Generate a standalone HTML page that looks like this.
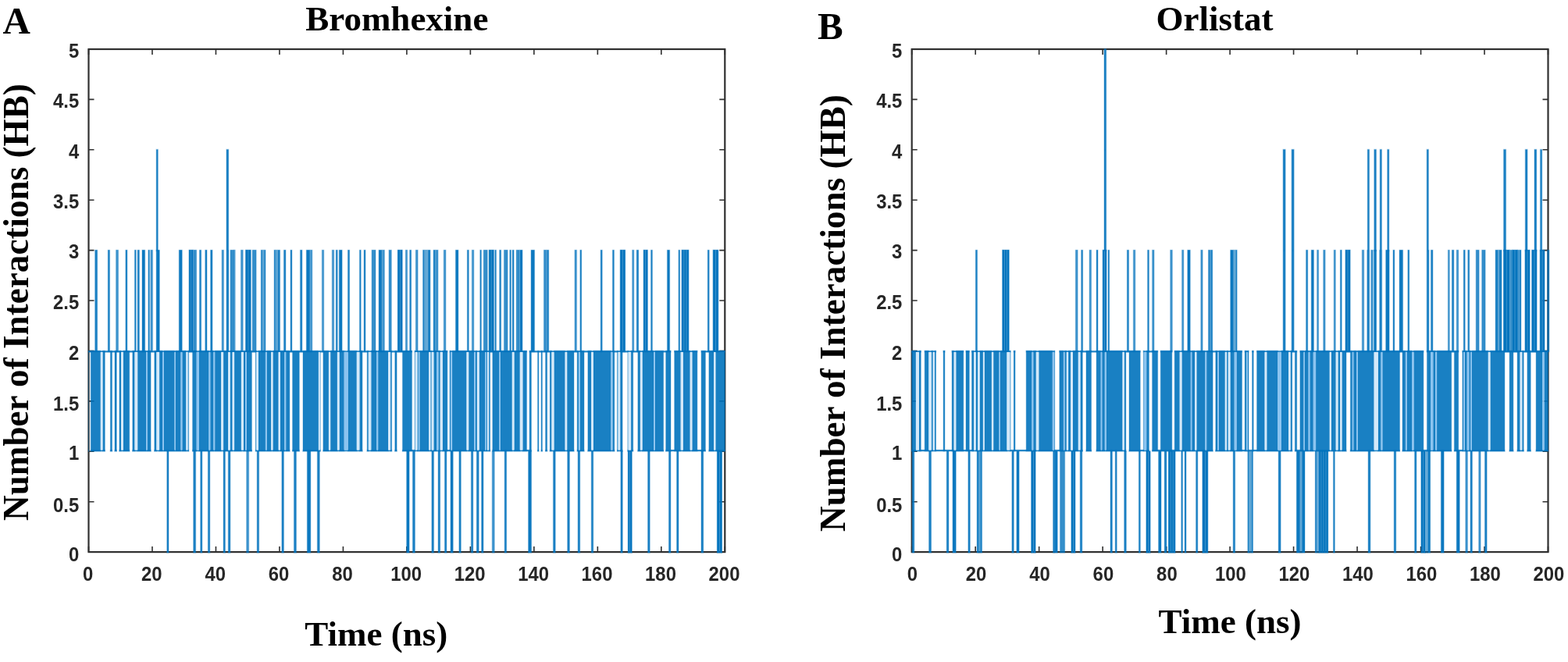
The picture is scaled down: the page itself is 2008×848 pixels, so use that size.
<!DOCTYPE html>
<html><head><meta charset="utf-8"><title>Hydrogen bond interactions</title>
<style>
html,body{margin:0;padding:0;background:#fff;}
body{width:2008px;height:848px;overflow:hidden;}
svg{display:block;}
.tk{font-family:"Liberation Sans",Arial,sans-serif;font-weight:bold;font-size:25px;fill:#262626;}
.ti{font-family:"Liberation Serif","Times New Roman",serif;font-weight:bold;font-size:45px;fill:#000;}
.pl{font-family:"Liberation Serif","Times New Roman",serif;font-weight:bold;font-size:49px;fill:#000;}
.yl{font-family:"Liberation Serif","Times New Roman",serif;font-weight:bold;font-size:47.4px;fill:#000;}
</style></head><body>
<svg width="2008" height="848" viewBox="0 0 2008 848">
<rect width="2008" height="848" fill="#fff"/>
<g id="axesA">
<rect x="113.5" y="63.0" width="814.8" height="644.1" fill="none" stroke="#303030" stroke-width="2.2"/>
<path d="M113.50 707.1v-7M113.50 63.0v7" stroke="#303030" stroke-width="1.6" fill="none"/>
<path d="M194.98 707.1v-7M194.98 63.0v7" stroke="#303030" stroke-width="1.6" fill="none"/>
<path d="M276.46 707.1v-7M276.46 63.0v7" stroke="#303030" stroke-width="1.6" fill="none"/>
<path d="M357.94 707.1v-7M357.94 63.0v7" stroke="#303030" stroke-width="1.6" fill="none"/>
<path d="M439.42 707.1v-7M439.42 63.0v7" stroke="#303030" stroke-width="1.6" fill="none"/>
<path d="M520.90 707.1v-7M520.90 63.0v7" stroke="#303030" stroke-width="1.6" fill="none"/>
<path d="M602.38 707.1v-7M602.38 63.0v7" stroke="#303030" stroke-width="1.6" fill="none"/>
<path d="M683.86 707.1v-7M683.86 63.0v7" stroke="#303030" stroke-width="1.6" fill="none"/>
<path d="M765.34 707.1v-7M765.34 63.0v7" stroke="#303030" stroke-width="1.6" fill="none"/>
<path d="M846.82 707.1v-7M846.82 63.0v7" stroke="#303030" stroke-width="1.6" fill="none"/>
<path d="M928.30 707.1v-7M928.30 63.0v7" stroke="#303030" stroke-width="1.6" fill="none"/>
<path d="M113.5 707.10h7M928.3 707.10h-7" stroke="#303030" stroke-width="1.6" fill="none"/>
<path d="M113.5 642.69h7M928.3 642.69h-7" stroke="#303030" stroke-width="1.6" fill="none"/>
<path d="M113.5 578.28h7M928.3 578.28h-7" stroke="#303030" stroke-width="1.6" fill="none"/>
<path d="M113.5 513.87h7M928.3 513.87h-7" stroke="#303030" stroke-width="1.6" fill="none"/>
<path d="M113.5 449.46h7M928.3 449.46h-7" stroke="#303030" stroke-width="1.6" fill="none"/>
<path d="M113.5 385.05h7M928.3 385.05h-7" stroke="#303030" stroke-width="1.6" fill="none"/>
<path d="M113.5 320.64h7M928.3 320.64h-7" stroke="#303030" stroke-width="1.6" fill="none"/>
<path d="M113.5 256.23h7M928.3 256.23h-7" stroke="#303030" stroke-width="1.6" fill="none"/>
<path d="M113.5 191.82h7M928.3 191.82h-7" stroke="#303030" stroke-width="1.6" fill="none"/>
<path d="M113.5 127.41h7M928.3 127.41h-7" stroke="#303030" stroke-width="1.6" fill="none"/>
<path d="M113.5 63.00h7M928.3 63.00h-7" stroke="#303030" stroke-width="1.6" fill="none"/>
<text class="tk" transform="translate(112.7 743.8) scale(0.955 1)" text-anchor="middle">0</text>
<text class="tk" transform="translate(194.2 743.8) scale(0.955 1)" text-anchor="middle">20</text>
<text class="tk" transform="translate(275.7 743.8) scale(0.955 1)" text-anchor="middle">40</text>
<text class="tk" transform="translate(357.1 743.8) scale(0.955 1)" text-anchor="middle">60</text>
<text class="tk" transform="translate(438.6 743.8) scale(0.955 1)" text-anchor="middle">80</text>
<text class="tk" transform="translate(520.1 743.8) scale(0.955 1)" text-anchor="middle">100</text>
<text class="tk" transform="translate(601.6 743.8) scale(0.955 1)" text-anchor="middle">120</text>
<text class="tk" transform="translate(683.1 743.8) scale(0.955 1)" text-anchor="middle">140</text>
<text class="tk" transform="translate(764.5 743.8) scale(0.955 1)" text-anchor="middle">160</text>
<text class="tk" transform="translate(846.0 743.8) scale(0.955 1)" text-anchor="middle">180</text>
<text class="tk" transform="translate(927.5 743.8) scale(0.955 1)" text-anchor="middle">200</text>
<text class="tk" transform="translate(101.2 719.0) scale(0.955 1)" text-anchor="end">0</text>
<text class="tk" transform="translate(101.2 655.9) scale(0.955 1)" text-anchor="end">0.5</text>
<text class="tk" transform="translate(101.2 589.3) scale(0.955 1)" text-anchor="end">1</text>
<text class="tk" transform="translate(101.2 525.9) scale(0.955 1)" text-anchor="end">1.5</text>
<text class="tk" transform="translate(101.2 460.8) scale(0.955 1)" text-anchor="end">2</text>
<text class="tk" transform="translate(101.2 396.4) scale(0.955 1)" text-anchor="end">2.5</text>
<text class="tk" transform="translate(101.2 331.3) scale(0.955 1)" text-anchor="end">3</text>
<text class="tk" transform="translate(101.2 267.4) scale(0.955 1)" text-anchor="end">3.5</text>
<text class="tk" transform="translate(101.2 203.2) scale(0.955 1)" text-anchor="end">4</text>
<text class="tk" transform="translate(101.2 138.1) scale(0.955 1)" text-anchor="end">4.5</text>
<text class="tk" transform="translate(101.2 74.4) scale(0.955 1)" text-anchor="end">5</text>
</g>
<g id="axesB">
<rect x="1167.7" y="63.0" width="814.8" height="644.1" fill="none" stroke="#303030" stroke-width="2.2"/>
<path d="M1167.70 707.1v-7M1167.70 63.0v7" stroke="#303030" stroke-width="1.6" fill="none"/>
<path d="M1249.18 707.1v-7M1249.18 63.0v7" stroke="#303030" stroke-width="1.6" fill="none"/>
<path d="M1330.66 707.1v-7M1330.66 63.0v7" stroke="#303030" stroke-width="1.6" fill="none"/>
<path d="M1412.14 707.1v-7M1412.14 63.0v7" stroke="#303030" stroke-width="1.6" fill="none"/>
<path d="M1493.62 707.1v-7M1493.62 63.0v7" stroke="#303030" stroke-width="1.6" fill="none"/>
<path d="M1575.10 707.1v-7M1575.10 63.0v7" stroke="#303030" stroke-width="1.6" fill="none"/>
<path d="M1656.58 707.1v-7M1656.58 63.0v7" stroke="#303030" stroke-width="1.6" fill="none"/>
<path d="M1738.06 707.1v-7M1738.06 63.0v7" stroke="#303030" stroke-width="1.6" fill="none"/>
<path d="M1819.54 707.1v-7M1819.54 63.0v7" stroke="#303030" stroke-width="1.6" fill="none"/>
<path d="M1901.02 707.1v-7M1901.02 63.0v7" stroke="#303030" stroke-width="1.6" fill="none"/>
<path d="M1982.50 707.1v-7M1982.50 63.0v7" stroke="#303030" stroke-width="1.6" fill="none"/>
<path d="M1167.7 707.10h7M1982.5 707.10h-7" stroke="#303030" stroke-width="1.6" fill="none"/>
<path d="M1167.7 642.69h7M1982.5 642.69h-7" stroke="#303030" stroke-width="1.6" fill="none"/>
<path d="M1167.7 578.28h7M1982.5 578.28h-7" stroke="#303030" stroke-width="1.6" fill="none"/>
<path d="M1167.7 513.87h7M1982.5 513.87h-7" stroke="#303030" stroke-width="1.6" fill="none"/>
<path d="M1167.7 449.46h7M1982.5 449.46h-7" stroke="#303030" stroke-width="1.6" fill="none"/>
<path d="M1167.7 385.05h7M1982.5 385.05h-7" stroke="#303030" stroke-width="1.6" fill="none"/>
<path d="M1167.7 320.64h7M1982.5 320.64h-7" stroke="#303030" stroke-width="1.6" fill="none"/>
<path d="M1167.7 256.23h7M1982.5 256.23h-7" stroke="#303030" stroke-width="1.6" fill="none"/>
<path d="M1167.7 191.82h7M1982.5 191.82h-7" stroke="#303030" stroke-width="1.6" fill="none"/>
<path d="M1167.7 127.41h7M1982.5 127.41h-7" stroke="#303030" stroke-width="1.6" fill="none"/>
<path d="M1167.7 63.00h7M1982.5 63.00h-7" stroke="#303030" stroke-width="1.6" fill="none"/>
<text class="tk" transform="translate(1168.5 743.8) scale(0.955 1)" text-anchor="middle">0</text>
<text class="tk" transform="translate(1250.0 743.8) scale(0.955 1)" text-anchor="middle">20</text>
<text class="tk" transform="translate(1331.5 743.8) scale(0.955 1)" text-anchor="middle">40</text>
<text class="tk" transform="translate(1412.9 743.8) scale(0.955 1)" text-anchor="middle">60</text>
<text class="tk" transform="translate(1494.4 743.8) scale(0.955 1)" text-anchor="middle">80</text>
<text class="tk" transform="translate(1575.9 743.8) scale(0.955 1)" text-anchor="middle">100</text>
<text class="tk" transform="translate(1657.4 743.8) scale(0.955 1)" text-anchor="middle">120</text>
<text class="tk" transform="translate(1738.9 743.8) scale(0.955 1)" text-anchor="middle">140</text>
<text class="tk" transform="translate(1820.3 743.8) scale(0.955 1)" text-anchor="middle">160</text>
<text class="tk" transform="translate(1901.8 743.8) scale(0.955 1)" text-anchor="middle">180</text>
<text class="tk" transform="translate(1983.3 743.8) scale(0.955 1)" text-anchor="middle">200</text>
<text class="tk" transform="translate(1155.4 719.0) scale(0.955 1)" text-anchor="end">0</text>
<text class="tk" transform="translate(1155.4 655.9) scale(0.955 1)" text-anchor="end">0.5</text>
<text class="tk" transform="translate(1155.4 589.3) scale(0.955 1)" text-anchor="end">1</text>
<text class="tk" transform="translate(1155.4 525.9) scale(0.955 1)" text-anchor="end">1.5</text>
<text class="tk" transform="translate(1155.4 460.8) scale(0.955 1)" text-anchor="end">2</text>
<text class="tk" transform="translate(1155.4 396.4) scale(0.955 1)" text-anchor="end">2.5</text>
<text class="tk" transform="translate(1155.4 331.3) scale(0.955 1)" text-anchor="end">3</text>
<text class="tk" transform="translate(1155.4 267.4) scale(0.955 1)" text-anchor="end">3.5</text>
<text class="tk" transform="translate(1155.4 203.2) scale(0.955 1)" text-anchor="end">4</text>
<text class="tk" transform="translate(1155.4 138.1) scale(0.955 1)" text-anchor="end">4.5</text>
<text class="tk" transform="translate(1155.4 74.4) scale(0.955 1)" text-anchor="end">5</text>
</g>
<g id="data">
<g id="seriesA" fill="#0072bd" stroke="#0072bd" stroke-opacity="0.28" stroke-width="1.3">
<path fill-opacity="0.56" d="M299.6 320.3H301.2V450.5H299.6zM336.4 320.3H338.0V450.5H336.4zM353.1 320.3H355.0V450.5H353.1z"/>
<path fill-opacity="0.6" d="M242.2 320.3H247.1V450.5H242.2zM314.7 320.3H321.1V450.5H314.7zM509.5 320.3H515.1V450.5H509.5zM544.1 320.3H547.5V450.5H544.1zM626.3 320.3H632.2V450.5H626.3zM794.4 320.3H800.5V450.5H794.4zM824.3 320.3H829.2V450.5H824.3zM873.1 320.3H881.8V450.5H873.1zM913.3 320.3H919.7V450.5H913.3zM804.4 578.0H809.1V708.1H804.4zM918.5 578.0H924.4V708.1H918.5z"/>
<path fill-opacity="0.75" d="M148.6 320.3H151.5V450.5H148.6zM192.9 320.3H195.5V450.5H192.9zM284.1 320.3H286.5V450.5H284.1zM308.5 320.3H311.2V450.5H308.5zM397.4 320.3H399.8V450.5H397.4zM412.4 320.3H414.7V450.5H412.4zM425.3 320.3H427.7V450.5H425.3zM489.5 320.3H492.4V450.5H489.5zM498.0 320.3H499.7V450.5H498.0zM499.7 320.3H501.3V450.5H499.7zM519.4 320.3H521.6V450.5H519.4zM532.4 320.3H535.1V450.5H532.4zM558.1 320.3H561.0V450.5H558.1zM568.3 320.3H570.9V450.5H568.3zM604.4 320.3H606.8V450.5H604.4zM736.0 320.3H738.5V450.5H736.0zM809.7 320.3H811.8V450.5H809.7zM315.7 578.0H318.6V708.1H315.7zM630.3 578.0H633.2V708.1H630.3z"/>
<path fill-opacity="0.8" d="M247.7 320.3H251.6V450.5H247.7zM295.0 320.3H299.7V450.5H295.0zM323.2 320.3H328.1V450.5H323.2zM476.1 320.3H481.0V450.5H476.1zM619.3 320.3H624.2V450.5H619.3zM645.5 320.3H650.1V450.5H645.5zM661.2 320.3H665.0V450.5H661.2zM696.5 320.3H699.7V450.5H696.5z"/>
<path fill-opacity="0.85" d="M113.5 449.4H113.6V451.1H113.5zM113.5 576.4H113.6V578.1H113.5zM116.3 449.4H128.8V451.1H116.3zM116.3 576.4H128.8V578.1H116.3zM128.8 449.4H131.5V451.1H128.8zM128.8 576.4H131.5V578.1H128.8zM131.5 449.4H134.3V451.1H131.5zM131.5 576.4H134.3V578.1H131.5zM141.4 449.4H143.5V451.1H141.4zM141.4 576.4H143.5V578.1H141.4zM147.0 449.4H149.3V451.1H147.0zM147.0 576.4H149.3V578.1H147.0zM152.9 449.4H155.0V451.1H152.9zM152.9 576.4H155.0V578.1H152.9zM155.0 449.4H158.0V451.1H155.0zM155.0 576.4H158.0V578.1H155.0zM158.0 449.4H165.7V451.1H158.0zM158.0 576.4H165.7V578.1H158.0zM169.8 449.4H172.5V451.1H169.8zM169.8 576.4H172.5V578.1H169.8zM172.5 449.4H176.2V451.1H172.5zM172.5 576.4H176.2V578.1H172.5zM176.2 449.4H187.1V451.1H176.2zM176.2 576.4H187.1V578.1H176.2zM187.1 449.4H188.7V451.1H187.1zM187.1 576.4H188.7V578.1H187.1zM188.7 449.4H193.1V451.1H188.7zM188.7 576.4H193.1V578.1H188.7zM197.8 449.4H200.4V451.1H197.8zM197.8 576.4H200.4V578.1H197.8zM200.4 449.4H204.1V451.1H200.4zM200.4 576.4H204.1V578.1H200.4zM204.1 449.4H208.1V451.1H204.1zM204.1 576.4H208.1V578.1H204.1zM208.1 449.4H210.0V451.1H208.1zM208.1 576.4H210.0V578.1H208.1zM210.0 449.4H223.5V451.1H210.0zM210.0 576.4H223.5V578.1H210.0zM223.5 449.4H225.0V451.1H223.5zM223.5 576.4H225.0V578.1H223.5zM225.0 449.4H231.5V451.1H225.0zM225.0 576.4H231.5V578.1H225.0zM231.5 449.4H233.4V451.1H231.5zM231.5 576.4H233.4V578.1H231.5zM233.4 449.4H238.3V451.1H233.4zM233.4 576.4H238.3V578.1H233.4zM238.3 449.4H240.6V451.1H238.3zM238.3 576.4H240.6V578.1H238.3zM240.6 449.4H241.6V451.1H240.6zM240.6 576.4H241.6V578.1H240.6zM246.6 449.4H251.7V451.1H246.6zM246.6 576.4H251.7V578.1H246.6zM251.7 449.4H255.0V451.1H251.7zM251.7 576.4H255.0V578.1H251.7zM255.0 449.4H267.4V451.1H255.0zM255.0 576.4H267.4V578.1H255.0zM267.4 449.4H269.3V451.1H267.4zM267.4 576.4H269.3V578.1H267.4zM269.3 449.4H273.4V451.1H269.3zM269.3 576.4H273.4V578.1H269.3zM273.4 449.4H275.2V451.1H273.4zM273.4 576.4H275.2V578.1H273.4zM275.2 449.4H283.2V451.1H275.2zM275.2 576.4H283.2V578.1H275.2zM283.2 449.4H286.1V451.1H283.2zM283.2 576.4H286.1V578.1H283.2zM286.1 449.4H292.1V451.1H286.1zM286.1 576.4H292.1V578.1H286.1zM292.1 449.4H294.8V451.1H292.1zM292.1 576.4H294.8V578.1H292.1zM294.8 449.4H297.6V451.1H294.8zM294.8 576.4H297.6V578.1H294.8zM297.6 449.4H300.1V451.1H297.6zM297.6 576.4H300.1V578.1H297.6zM300.1 449.4H308.9V451.1H300.1zM300.1 576.4H308.9V578.1H300.1zM308.9 449.4H312.0V451.1H308.9zM308.9 576.4H312.0V578.1H308.9zM312.0 449.4H314.0V451.1H312.0zM312.0 576.4H314.0V578.1H312.0zM314.0 449.4H315.9V451.1H314.0zM314.0 576.4H315.9V578.1H314.0zM315.9 449.4H322.4V451.1H315.9zM315.9 576.4H322.4V578.1H315.9zM327.4 449.4H328.3V451.1H327.4zM327.4 576.4H328.3V578.1H327.4zM328.3 449.4H331.0V451.1H328.3zM328.3 576.4H331.0V578.1H328.3zM331.0 449.4H339.9V451.1H331.0zM331.0 576.4H339.9V578.1H331.0zM339.9 449.4H341.8V451.1H339.9zM339.9 576.4H341.8V578.1H339.9zM341.8 449.4H347.2V451.1H341.8zM341.8 576.4H347.2V578.1H341.8zM347.2 449.4H349.5V451.1H347.2zM347.2 576.4H349.5V578.1H347.2zM349.5 449.4H356.6V451.1H349.5zM349.5 576.4H356.6V578.1H349.5zM356.6 449.4H358.9V451.1H356.6zM356.6 576.4H358.9V578.1H356.6zM358.9 449.4H364.3V451.1H358.9zM358.9 576.4H364.3V578.1H358.9zM364.3 449.4H366.2V451.1H364.3zM364.3 576.4H366.2V578.1H364.3zM366.2 449.4H370.9V451.1H366.2zM366.2 576.4H370.9V578.1H366.2zM374.6 449.4H383.3V451.1H374.6zM374.6 576.4H383.3V578.1H374.6zM388.0 449.4H407.9V451.1H388.0zM388.0 576.4H407.9V578.1H388.0zM407.9 449.4H409.7V451.1H407.9zM407.9 576.4H409.7V578.1H407.9zM409.7 449.4H410.2V451.1H409.7zM409.7 576.4H410.2V578.1H409.7zM413.9 449.4H420.9V451.1H413.9zM413.9 576.4H420.9V578.1H413.9zM420.9 449.4H423.2V451.1H420.9zM420.9 576.4H423.2V578.1H420.9zM423.2 449.4H431.9V451.1H423.2zM423.2 576.4H431.9V578.1H423.2zM431.9 449.4H434.6V451.1H431.9zM431.9 576.4H434.6V578.1H431.9zM434.6 449.4H440.7V451.1H434.6zM434.6 576.4H440.7V578.1H434.6zM440.7 449.4H445.7V451.1H440.7zM440.7 576.4H445.7V578.1H440.7zM445.7 449.4H456.8V451.1H445.7zM445.7 576.4H456.8V578.1H445.7zM456.8 449.4H460.4V451.1H456.8zM456.8 576.4H460.4V578.1H456.8zM460.4 449.4H464.0V451.1H460.4zM460.4 576.4H464.0V578.1H460.4zM470.2 449.4H471.8V451.1H470.2zM470.2 576.4H471.8V578.1H470.2zM471.8 449.4H475.3V451.1H471.8zM471.8 576.4H475.3V578.1H471.8zM475.3 449.4H482.3V451.1H475.3zM475.3 576.4H482.3V578.1H475.3zM482.3 449.4H484.2V451.1H482.3zM482.3 576.4H484.2V578.1H482.3zM484.2 449.4H497.1V451.1H484.2zM484.2 576.4H497.1V578.1H484.2zM497.1 449.4H500.1V451.1H497.1zM497.1 576.4H500.1V578.1H497.1zM500.1 449.4H501.6V451.1H500.1zM500.1 576.4H501.6V578.1H500.1zM505.8 449.4H508.1V451.1H505.8zM505.8 576.4H508.1V578.1H505.8zM515.5 449.4H527.5V451.1H515.5zM515.5 576.4H527.5V578.1H515.5zM531.2 449.4H531.8V451.1H531.2zM531.2 576.4H531.8V578.1H531.2zM531.8 449.4H534.5V451.1H531.8zM531.8 576.4H534.5V578.1H531.8zM534.5 449.4H535.8V451.1H534.5zM534.5 576.4H535.8V578.1H534.5zM535.8 449.4H537.4V451.1H535.8zM535.8 576.4H537.4V578.1H535.8zM537.4 449.4H549.2V451.1H537.4zM537.4 576.4H549.2V578.1H537.4zM549.2 449.4H551.4V451.1H549.2zM549.2 576.4H551.4V578.1H549.2zM551.4 449.4H552.7V451.1H551.4zM551.4 576.4H552.7V578.1H551.4zM552.7 449.4H555.4V451.1H552.7zM552.7 576.4H555.4V578.1H552.7zM555.4 449.4H559.0V451.1H555.4zM555.4 576.4H559.0V578.1H555.4zM559.0 449.4H561.5V451.1H559.0zM559.0 576.4H561.5V578.1H559.0zM561.5 449.4H563.7V451.1H561.5zM561.5 576.4H563.7V578.1H561.5zM563.7 449.4H566.8V451.1H563.7zM563.7 576.4H566.8V578.1H563.7zM566.8 449.4H572.9V451.1H566.8zM566.8 576.4H572.9V578.1H566.8zM576.0 449.4H577.2V451.1H576.0zM576.0 576.4H577.2V578.1H576.0zM577.2 449.4H579.1V451.1H577.2zM577.2 576.4H579.1V578.1H577.2zM579.1 449.4H597.5V451.1H579.1zM579.1 576.4H597.5V578.1H579.1zM597.5 449.4H600.2V451.1H597.5zM597.5 576.4H600.2V578.1H597.5zM600.2 449.4H607.1V451.1H600.2zM600.2 576.4H607.1V578.1H600.2zM607.1 449.4H609.0V451.1H607.1zM607.1 576.4H609.0V578.1H607.1zM609.0 449.4H610.9V451.1H609.0zM609.0 576.4H610.9V578.1H609.0zM610.9 449.4H613.7V451.1H610.9zM610.9 576.4H613.7V578.1H610.9zM613.7 449.4H621.0V451.1H613.7zM613.7 576.4H621.0V578.1H613.7zM621.0 449.4H622.5V451.1H621.0zM621.0 576.4H622.5V578.1H621.0zM622.5 449.4H623.9V451.1H622.5zM622.5 576.4H623.9V578.1H622.5zM623.9 449.4H626.1V451.1H623.9zM623.9 576.4H626.1V578.1H623.9zM626.1 449.4H627.6V451.1H626.1zM626.1 576.4H627.6V578.1H626.1zM630.8 449.4H639.4V451.1H630.8zM630.8 576.4H639.4V578.1H630.8zM639.4 449.4H641.0V451.1H639.4zM639.4 576.4H641.0V578.1H639.4zM641.0 449.4H655.8V451.1H641.0zM641.0 576.4H655.8V578.1H641.0zM655.8 449.4H658.5V451.1H655.8zM655.8 576.4H658.5V578.1H655.8zM658.5 449.4H665.8V451.1H658.5zM658.5 576.4H665.8V578.1H658.5zM665.8 449.4H669.4V451.1H665.8zM665.8 576.4H669.4V578.1H665.8zM669.4 449.4H674.5V451.1H669.4zM669.4 576.4H674.5V578.1H669.4zM678.1 449.4H680.4V451.1H678.1zM678.1 576.4H680.4V578.1H678.1zM688.6 449.4H689.9V451.1H688.6zM688.6 576.4H689.9V578.1H688.6zM693.1 449.4H694.4V451.1H693.1zM693.1 576.4H694.4V578.1H693.1zM698.6 449.4H700.6V451.1H698.6zM698.6 576.4H700.6V578.1H698.6zM704.3 449.4H706.4V451.1H704.3zM704.3 576.4H706.4V578.1H704.3zM706.4 449.4H709.5V451.1H706.4zM706.4 576.4H709.5V578.1H706.4zM709.5 449.4H723.6V451.1H709.5zM709.5 576.4H723.6V578.1H709.5zM723.6 449.4H726.2V451.1H723.6zM723.6 576.4H726.2V578.1H723.6zM726.2 449.4H735.0V451.1H726.2zM726.2 576.4H735.0V578.1H726.2zM739.2 449.4H740.9V451.1H739.2zM739.2 576.4H740.9V578.1H739.2zM740.9 449.4H742.8V451.1H740.9zM740.9 576.4H742.8V578.1H740.9zM742.8 449.4H748.0V451.1H742.8zM742.8 576.4H748.0V578.1H742.8zM752.9 449.4H757.2V451.1H752.9zM752.9 576.4H757.2V578.1H752.9zM757.2 449.4H759.9V451.1H757.2zM757.2 576.4H759.9V578.1H757.2zM759.9 449.4H782.3V451.1H759.9zM759.9 576.4H782.3V578.1H759.9zM782.3 449.4H784.5V451.1H782.3zM782.3 576.4H784.5V578.1H782.3zM784.5 449.4H786.8V451.1H784.5zM784.5 576.4H786.8V578.1H784.5zM790.5 449.4H791.5V451.1H790.5zM790.5 576.4H791.5V578.1H790.5zM791.5 449.4H794.2V451.1H791.5zM791.5 576.4H794.2V578.1H791.5zM794.2 449.4H797.1V451.1H794.2zM794.2 576.4H797.1V578.1H794.2zM803.9 449.4H804.5V451.1H803.9zM803.9 576.4H804.5V578.1H803.9zM804.5 449.4H808.1V451.1H804.5zM804.5 576.4H808.1V578.1H804.5zM808.1 449.4H810.7V451.1H808.1zM808.1 576.4H810.7V578.1H808.1zM816.9 449.4H819.9V451.1H816.9zM816.9 576.4H819.9V578.1H816.9zM819.9 449.4H822.6V451.1H819.9zM819.9 576.4H822.6V578.1H819.9zM822.6 449.4H837.0V451.1H822.6zM822.6 576.4H837.0V578.1H822.6zM837.0 449.4H838.9V451.1H837.0zM837.0 576.4H838.9V578.1H837.0zM838.9 449.4H849.6V451.1H838.9zM838.9 576.4H849.6V578.1H838.9zM852.7 449.4H859.0V451.1H852.7zM852.7 576.4H859.0V578.1H852.7zM863.7 449.4H871.7V451.1H863.7zM863.7 576.4H871.7V578.1H863.7zM871.7 449.4H874.9V451.1H871.7zM871.7 576.4H874.9V578.1H871.7zM874.9 449.4H883.7V451.1H874.9zM874.9 576.4H883.7V578.1H874.9zM883.7 449.4H886.4V451.1H883.7zM883.7 576.4H886.4V578.1H883.7zM886.4 449.4H892.9V451.1H886.4zM886.4 576.4H892.9V578.1H886.4zM898.1 449.4H903.4V451.1H898.1zM898.1 576.4H903.4V578.1H898.1zM907.9 449.4H914.1V451.1H907.9zM907.9 576.4H914.1V578.1H907.9zM914.1 449.4H916.4V451.1H914.1zM914.1 576.4H916.4V578.1H914.1zM916.4 449.4H928.3V451.1H916.4zM916.4 576.4H928.3V578.1H916.4z"/>
<path fill-opacity="0.89" d="M121.7 320.3H124.6V450.5H121.7zM138.3 320.3H140.5V450.5H138.3zM160.9 320.3H162.9V450.5H160.9zM172.5 320.3H174.2V450.5H172.5zM176.2 320.3H178.4V450.5H176.2zM189.9 320.3H191.5V450.5H189.9zM255.5 320.3H257.6V450.5H255.5zM262.8 320.3H265.0V450.5H262.8zM269.6 320.3H272.0V450.5H269.6zM290.0 320.3H292.9V450.5H290.0zM334.3 320.3H335.9V450.5H334.3zM338.4 320.3H340.0V450.5H338.4zM351.1 320.3H352.7V450.5H351.1zM355.6 320.3H358.5V450.5H355.6zM363.5 320.3H365.9V450.5H363.5zM372.0 320.3H373.9V450.5H372.0zM384.5 320.3H386.9V450.5H384.5zM430.3 320.3H432.2V450.5H430.3zM445.5 320.3H447.6V450.5H445.5zM460.5 320.3H462.2V450.5H460.5zM466.1 320.3H468.0V450.5H466.1zM524.7 320.3H526.6V450.5H524.7zM541.6 320.3H543.5V450.5H541.6zM548.1 320.3H551.0V450.5H548.1zM555.1 320.3H557.5V450.5H555.1zM598.4 320.3H600.3V450.5H598.4zM614.8 320.3H616.4V450.5H614.8zM633.8 320.3H635.4V450.5H633.8zM639.7 320.3H641.6V450.5H639.7zM652.8 320.3H654.4V450.5H652.8zM656.2 320.3H658.1V450.5H656.2zM700.3 320.3H702.7V450.5H700.3zM742.9 320.3H744.7V450.5H742.9zM769.2 320.3H771.2V450.5H769.2zM784.5 320.3H786.4V450.5H784.5zM815.3 320.3H817.7V450.5H815.3zM833.6 320.3H835.4V450.5H833.6zM869.0 320.3H870.6V450.5H869.0zM906.3 320.3H908.2V450.5H906.3zM200.2 191.5H202.3V321.6H200.2zM290.0 191.5H292.7V321.6H290.0zM213.8 578.0H216.0V708.1H213.8zM247.7 578.0H250.6V708.1H247.7zM256.7 578.0H258.9V708.1H256.7zM266.4 578.0H268.8V708.1H266.4zM286.1 578.0H288.4V708.1H286.1zM292.3 578.0H294.9V708.1H292.3zM329.2 578.0H331.6V708.1H329.2zM360.9 578.0H363.4V708.1H360.9zM376.5 578.0H379.4V708.1H376.5zM406.4 578.0H409.3V708.1H406.4zM528.5 578.0H531.4V708.1H528.5zM552.9 578.0H555.5V708.1H552.9zM561.1 578.0H563.6V708.1H561.1zM569.5 578.0H571.9V708.1H569.5zM587.9 578.0H590.3V708.1H587.9zM603.4 578.0H605.8V708.1H603.4zM610.4 578.0H613.2V708.1H610.4zM616.6 578.0H619.0V708.1H616.6zM646.2 578.0H648.6V708.1H646.2zM708.5 578.0H711.2V708.1H708.5zM726.7 578.0H729.4V708.1H726.7zM740.1 578.0H742.7V708.1H740.1zM757.3 578.0H759.7V708.1H757.3zM794.9 578.0H797.3V708.1H794.9zM829.6 578.0H832.2V708.1H829.6zM856.5 578.0H858.9V708.1H856.5zM866.6 578.0H869.0V708.1H866.6zM898.0 578.0H900.7V708.1H898.0z"/>
<path fill-opacity="0.9" d="M113.5 449.4H113.6V578.1H113.5zM116.3 449.4H128.8V578.1H116.3zM131.5 449.4H134.3V578.1H131.5zM141.4 449.4H143.5V578.1H141.4zM147.0 449.4H149.3V578.1H147.0zM152.9 449.4H155.0V578.1H152.9zM158.0 449.4H165.7V578.1H158.0zM169.8 449.4H172.5V578.1H169.8zM176.2 449.4H187.1V578.1H176.2zM188.7 449.4H193.1V578.1H188.7zM197.8 449.4H200.4V578.1H197.8zM204.1 449.4H208.1V578.1H204.1zM210.0 449.4H223.5V578.1H210.0zM225.0 449.4H231.5V578.1H225.0zM233.4 449.4H238.3V578.1H233.4zM240.6 449.4H241.6V578.1H240.6zM246.6 449.4H251.7V578.1H246.6zM255.0 449.4H267.4V578.1H255.0zM269.3 449.4H273.4V578.1H269.3zM275.2 449.4H283.2V578.1H275.2zM286.1 449.4H292.1V578.1H286.1zM294.8 449.4H297.6V578.1H294.8zM300.1 449.4H308.9V578.1H300.1zM312.0 449.4H314.0V578.1H312.0zM315.9 449.4H322.4V578.1H315.9zM327.4 449.4H328.3V578.1H327.4zM331.0 449.4H339.9V578.1H331.0zM341.8 449.4H347.2V578.1H341.8zM349.5 449.4H356.6V578.1H349.5zM358.9 449.4H364.3V578.1H358.9zM366.2 449.4H370.9V578.1H366.2zM374.6 449.4H383.3V578.1H374.6zM388.0 449.4H407.9V578.1H388.0zM409.7 449.4H410.2V578.1H409.7zM413.9 449.4H420.9V578.1H413.9zM423.2 449.4H431.9V578.1H423.2zM434.6 449.4H440.7V578.1H434.6zM445.7 449.4H456.8V578.1H445.7zM460.4 449.4H464.0V578.1H460.4zM470.2 449.4H471.8V578.1H470.2zM475.3 449.4H482.3V578.1H475.3zM484.2 449.4H497.1V578.1H484.2zM500.1 449.4H501.6V578.1H500.1zM505.8 449.4H508.1V578.1H505.8zM515.5 449.4H527.5V578.1H515.5zM531.2 449.4H531.8V578.1H531.2zM534.5 449.4H535.8V578.1H534.5zM537.4 449.4H549.2V578.1H537.4zM551.4 449.4H552.7V578.1H551.4zM555.4 449.4H559.0V578.1H555.4zM561.5 449.4H563.7V578.1H561.5zM566.8 449.4H572.9V578.1H566.8zM576.0 449.4H577.2V578.1H576.0zM579.1 449.4H597.5V578.1H579.1zM600.2 449.4H607.1V578.1H600.2zM609.0 449.4H610.9V578.1H609.0zM613.7 449.4H621.0V578.1H613.7zM622.5 449.4H623.9V578.1H622.5zM626.1 449.4H627.6V578.1H626.1zM630.8 449.4H639.4V578.1H630.8zM641.0 449.4H655.8V578.1H641.0zM658.5 449.4H665.8V578.1H658.5zM669.4 449.4H674.5V578.1H669.4zM678.1 449.4H680.4V578.1H678.1zM688.6 449.4H689.9V578.1H688.6zM693.1 449.4H694.4V578.1H693.1zM698.6 449.4H700.6V578.1H698.6zM704.3 449.4H706.4V578.1H704.3zM709.5 449.4H723.6V578.1H709.5zM726.2 449.4H735.0V578.1H726.2zM739.2 449.4H740.9V578.1H739.2zM742.8 449.4H748.0V578.1H742.8zM752.9 449.4H757.2V578.1H752.9zM759.9 449.4H782.3V578.1H759.9zM784.5 449.4H786.8V578.1H784.5zM790.5 449.4H791.5V578.1H790.5zM794.2 449.4H797.1V578.1H794.2zM803.9 449.4H804.5V578.1H803.9zM808.1 449.4H810.7V578.1H808.1zM816.9 449.4H819.9V578.1H816.9zM822.6 449.4H837.0V578.1H822.6zM838.9 449.4H849.6V578.1H838.9zM852.7 449.4H859.0V578.1H852.7zM863.7 449.4H871.7V578.1H863.7zM874.9 449.4H883.7V578.1H874.9zM886.4 449.4H892.9V578.1H886.4zM898.1 449.4H903.4V578.1H898.1zM907.9 449.4H914.1V578.1H907.9zM916.4 449.4H928.3V578.1H916.4zM113.5 449.4H116.9V451.2H113.5zM133.7 449.4H142.0V451.2H133.7zM142.9 449.4H147.6V451.2H142.9zM148.7 449.4H153.5V451.2H148.7zM165.1 449.4H170.4V451.2H165.1zM192.5 449.4H198.4V451.2H192.5zM241.0 449.4H247.2V451.2H241.0zM321.8 449.4H328.0V451.2H321.8zM370.3 449.4H375.2V451.2H370.3zM382.7 449.4H388.6V451.2H382.7zM409.6 449.4H414.5V451.2H409.6zM463.4 449.4H470.8V451.2H463.4zM501.0 449.4H506.4V451.2H501.0zM507.5 449.4H516.1V451.2H507.5zM526.9 576.3H531.8V578.1H526.9zM572.3 576.3H576.6V578.1H572.3zM627.0 449.4H631.4V451.2H627.0zM673.9 576.3H678.7V578.1H673.9zM679.8 449.4H689.2V451.2H679.8zM689.3 449.4H693.7V451.2H689.3zM693.8 449.4H699.2V451.2H693.8zM700.0 449.4H704.9V451.2H700.0zM734.4 449.4H739.8V451.2H734.4zM747.4 449.4H753.5V451.2H747.4zM786.2 449.4H791.1V451.2H786.2zM796.5 449.4H804.5V451.2H796.5zM810.1 449.4H817.5V451.2H810.1zM849.0 449.4H853.3V451.2H849.0zM858.4 576.3H864.3V578.1H858.4zM892.3 576.3H898.7V578.1H892.3zM902.8 449.4H908.5V451.2H902.8z"/>
<path fill-opacity="0.95" d="M182.0 320.3H185.6V450.5H182.0zM200.2 320.3H204.3V450.5H200.2zM229.3 320.3H233.2V450.5H229.3zM242.2 320.3H244.3V450.5H242.2zM245.1 320.3H247.1V450.5H245.1zM314.7 320.3H317.5V450.5H314.7zM318.3 320.3H321.1V450.5H318.3zM392.4 320.3H396.8V450.5H392.4zM434.3 320.3H438.1V450.5H434.3zM485.1 320.3H488.9V450.5H485.1zM509.5 320.3H511.9V450.5H509.5zM512.7 320.3H515.1V450.5H512.7zM583.5 320.3H586.9V450.5H583.5zM626.3 320.3H628.8V450.5H626.3zM629.6 320.3H632.2V450.5H629.6zM665.6 320.3H669.0V450.5H665.6zM680.1 320.3H684.5V450.5H680.1zM794.4 320.3H797.1V450.5H794.4zM797.9 320.3H800.5V450.5H797.9zM824.3 320.3H826.3V450.5H824.3zM827.1 320.3H829.2V450.5H827.1zM854.5 320.3H857.6V450.5H854.5zM873.1 320.3H875.5V450.5H873.1zM876.3 320.3H878.6V450.5H876.3zM879.4 320.3H881.8V450.5H879.4zM913.3 320.3H916.1V450.5H913.3zM916.9 320.3H919.7V450.5H916.9zM393.4 578.0H397.8V708.1H393.4zM520.7 578.0H524.1V708.1H520.7zM577.0 578.0H580.2V708.1H577.0zM676.6 578.0H680.5V708.1H676.6zM804.4 578.0H806.3V708.1H804.4zM807.1 578.0H809.1V708.1H807.1zM918.5 578.0H921.1V708.1H918.5zM921.9 578.0H924.4V708.1H921.9z"/>
<path fill="#d4e9f9" stroke="none" d="M128.8 451.1H131.5V576.4H128.8zM155.0 451.1H158.0V576.4H155.0zM172.5 451.1H176.2V576.4H172.5zM200.4 451.1H204.1V576.4H200.4zM238.3 451.1H240.6V576.4H238.3zM283.2 451.1H286.1V576.4H283.2zM292.1 451.1H294.8V576.4H292.1zM297.6 451.1H300.1V576.4H297.6zM308.9 451.1H312.0V576.4H308.9zM328.3 451.1H331.0V576.4H328.3zM347.2 451.1H349.5V576.4H347.2zM356.6 451.1H358.9V576.4H356.6zM407.9 451.1H409.7V576.4H407.9zM420.9 451.1H423.2V576.4H420.9zM431.9 451.1H434.6V576.4H431.9zM456.8 451.1H460.4V576.4H456.8zM471.8 451.1H475.3V576.4H471.8zM497.1 451.1H500.1V576.4H497.1zM531.8 451.1H534.5V576.4H531.8zM549.2 451.1H551.4V576.4H549.2zM552.7 451.1H555.4V576.4H552.7zM563.7 451.1H566.8V576.4H563.7zM597.5 451.1H600.2V576.4H597.5zM610.9 451.1H613.7V576.4H610.9zM623.9 451.1H626.1V576.4H623.9zM655.8 451.1H658.5V576.4H655.8zM665.8 451.1H669.4V576.4H665.8zM706.4 451.1H709.5V576.4H706.4zM723.6 451.1H726.2V576.4H723.6zM757.2 451.1H759.9V576.4H757.2zM791.5 451.1H794.2V576.4H791.5zM804.5 451.1H808.1V576.4H804.5zM819.9 451.1H822.6V576.4H819.9zM871.7 451.1H874.9V576.4H871.7zM883.7 451.1H886.4V576.4H883.7zM914.1 451.1H916.4V576.4H914.1z"/>
<path fill="#8cc4f0" stroke="none" d="M187.1 451.1H188.7V576.4H187.1zM208.1 451.1H210.0V576.4H208.1zM223.5 451.1H225.0V576.4H223.5zM231.5 451.1H233.4V576.4H231.5zM251.7 451.1H255.0V576.4H251.7zM267.4 451.1H269.3V576.4H267.4zM273.4 451.1H275.2V576.4H273.4zM314.0 451.1H315.9V576.4H314.0zM339.9 451.1H341.8V576.4H339.9zM364.3 451.1H366.2V576.4H364.3zM440.7 451.1H445.7V576.4H440.7zM482.3 451.1H484.2V576.4H482.3zM535.8 451.1H537.4V576.4H535.8zM559.0 451.1H561.5V576.4H559.0zM577.2 451.1H579.1V576.4H577.2zM607.1 451.1H609.0V576.4H607.1zM621.0 451.1H622.5V576.4H621.0zM639.4 451.1H641.0V576.4H639.4zM740.9 451.1H742.8V576.4H740.9zM782.3 451.1H784.5V576.4H782.3zM837.0 451.1H838.9V576.4H837.0z"/>
</g>
<g id="seriesB" fill="#0072bd" stroke="#0072bd" stroke-opacity="0.28" stroke-width="1.3">
<path fill-opacity="0.56" d="M1580.2 320.3H1581.8V450.5H1580.2zM1918.3 320.3H1919.9V450.5H1918.3zM1253.5 578.0H1255.1V708.1H1253.5zM1600.1 578.0H1602.0V708.1H1600.1zM1665.2 578.0H1666.8V708.1H1665.2zM1686.8 578.0H1688.6V708.1H1686.8zM1825.5 578.0H1827.9V708.1H1825.5z"/>
<path fill-opacity="0.6" d="M1283.8 320.3H1292.1V450.5H1283.8zM1412.3 320.3H1416.9V450.5H1412.3zM1723.1 320.3H1729.0V450.5H1723.1zM1925.6 320.3H1933.0V450.5H1925.6zM1936.6 320.3H1943.4V450.5H1936.6zM1953.1 320.3H1959.0V450.5H1953.1zM1961.8 320.3H1967.9V450.5H1961.8zM1972.3 320.3H1977.9V450.5H1972.3zM1320.8 578.0H1326.0V708.1H1320.8zM1372.0 578.0H1376.8V708.1H1372.0zM1468.0 578.0H1473.0V708.1H1468.0zM1496.5 578.0H1504.9V708.1H1496.5zM1540.0 578.0H1546.7V708.1H1540.0zM1689.2 578.0H1700.6V708.1H1689.2zM1820.0 578.0H1824.9V708.1H1820.0z"/>
<path fill-opacity="0.75" d="M1377.4 320.3H1380.1V450.5H1377.4zM1395.1 320.3H1397.5V450.5H1395.1zM1451.4 320.3H1453.8V450.5H1451.4zM1475.6 320.3H1478.0V450.5H1475.6zM1498.7 320.3H1501.3V450.5H1498.7zM1513.6 320.3H1515.8V450.5H1513.6zM1537.8 320.3H1540.1V450.5H1537.8zM1686.6 320.3H1688.6V450.5H1686.6zM1694.7 320.3H1697.1V450.5H1694.7zM1708.2 320.3H1710.3V450.5H1708.2zM1744.3 320.3H1746.7V450.5H1744.3zM1755.8 320.3H1758.2V450.5H1755.8zM1854.4 320.3H1856.3V450.5H1854.4zM1865.3 320.3H1867.7V450.5H1865.3zM1933.6 320.3H1936.0V450.5H1933.6zM1943.9 320.3H1945.5V450.5H1943.9zM1981.5 320.3H1983.9V450.5H1981.5zM1876.8 578.0H1879.4V708.1H1876.8zM1893.7 578.0H1896.1V708.1H1893.7z"/>
<path fill-opacity="0.8" d="M1890.2 320.3H1894.1V450.5H1890.2zM1897.7 320.3H1902.1V450.5H1897.7zM1357.5 578.0H1363.6V708.1H1357.5z"/>
<path fill-opacity="0.85" d="M1167.7 449.4H1172.9V451.1H1167.7zM1167.7 576.4H1172.9V578.1H1167.7zM1172.9 449.4H1176.9V451.1H1172.9zM1172.9 576.4H1176.9V578.1H1172.9zM1176.9 449.4H1179.3V451.1H1176.9zM1176.9 576.4H1179.3V578.1H1176.9zM1184.2 449.4H1189.3V451.1H1184.2zM1184.2 576.4H1189.3V578.1H1184.2zM1189.3 449.4H1192.9V451.1H1189.3zM1189.3 576.4H1192.9V578.1H1189.3zM1192.9 449.4H1194.7V451.1H1192.9zM1192.9 576.4H1194.7V578.1H1192.9zM1194.7 449.4H1197.0V451.1H1194.7zM1194.7 576.4H1197.0V578.1H1194.7zM1197.0 449.4H1198.5V451.1H1197.0zM1197.0 576.4H1198.5V578.1H1197.0zM1208.1 449.4H1209.9V451.1H1208.1zM1208.1 576.4H1209.9V578.1H1208.1zM1219.1 449.4H1221.6V451.1H1219.1zM1219.1 576.4H1221.6V578.1H1219.1zM1221.6 449.4H1224.3V451.1H1221.6zM1221.6 576.4H1224.3V578.1H1221.6zM1224.3 449.4H1233.8V451.1H1224.3zM1224.3 576.4H1233.8V578.1H1224.3zM1237.0 449.4H1241.3V451.1H1237.0zM1237.0 576.4H1241.3V578.1H1237.0zM1244.5 449.4H1247.0V451.1H1244.5zM1244.5 576.4H1247.0V578.1H1244.5zM1247.0 449.4H1249.7V451.1H1247.0zM1247.0 576.4H1249.7V578.1H1247.0zM1249.7 449.4H1252.0V451.1H1249.7zM1249.7 576.4H1252.0V578.1H1249.7zM1252.0 449.4H1254.7V451.1H1252.0zM1252.0 576.4H1254.7V578.1H1252.0zM1254.7 449.4H1258.9V451.1H1254.7zM1254.7 576.4H1258.9V578.1H1254.7zM1258.9 449.4H1260.7V451.1H1258.9zM1258.9 576.4H1260.7V578.1H1258.9zM1260.7 449.4H1269.9V451.1H1260.7zM1260.7 576.4H1269.9V578.1H1260.7zM1269.9 449.4H1272.2V451.1H1269.9zM1269.9 576.4H1272.2V578.1H1269.9zM1272.2 449.4H1279.5V451.1H1272.2zM1272.2 576.4H1279.5V578.1H1272.2zM1279.5 449.4H1281.0V451.1H1279.5zM1279.5 576.4H1281.0V578.1H1279.5zM1281.0 449.4H1289.4V451.1H1281.0zM1281.0 576.4H1289.4V578.1H1281.0zM1289.4 449.4H1293.4V451.1H1289.4zM1289.4 576.4H1293.4V578.1H1289.4zM1293.4 449.4H1294.1V451.1H1293.4zM1293.4 576.4H1294.1V578.1H1293.4zM1298.3 449.4H1300.0V451.1H1298.3zM1298.3 576.4H1300.0V578.1H1298.3zM1314.2 449.4H1321.4V451.1H1314.2zM1314.2 576.4H1321.4V578.1H1314.2zM1321.4 449.4H1323.3V451.1H1321.4zM1321.4 576.4H1323.3V578.1H1321.4zM1323.3 449.4H1326.8V451.1H1323.3zM1323.3 576.4H1326.8V578.1H1323.3zM1326.8 449.4H1330.3V451.1H1326.8zM1326.8 576.4H1330.3V578.1H1326.8zM1330.3 449.4H1347.8V451.1H1330.3zM1330.3 576.4H1347.8V578.1H1330.3zM1347.8 449.4H1349.9V451.1H1347.8zM1347.8 576.4H1349.9V578.1H1347.8zM1349.9 449.4H1350.6V451.1H1349.9zM1349.9 576.4H1350.6V578.1H1349.9zM1356.8 449.4H1361.9V451.1H1356.8zM1356.8 576.4H1361.9V578.1H1356.8zM1361.9 449.4H1363.5V451.1H1361.9zM1361.9 576.4H1363.5V578.1H1361.9zM1363.5 449.4H1365.8V451.1H1363.5zM1363.5 576.4H1365.8V578.1H1363.5zM1365.8 449.4H1368.1V451.1H1365.8zM1365.8 576.4H1368.1V578.1H1365.8zM1368.1 449.4H1371.0V451.1H1368.1zM1368.1 576.4H1371.0V578.1H1368.1zM1371.0 449.4H1374.0V451.1H1371.0zM1371.0 576.4H1374.0V578.1H1371.0zM1374.0 449.4H1380.8V451.1H1374.0zM1374.0 576.4H1380.8V578.1H1374.0zM1380.8 449.4H1383.5V451.1H1380.8zM1380.8 576.4H1383.5V578.1H1380.8zM1383.5 449.4H1386.3V451.1H1383.5zM1383.5 576.4H1386.3V578.1H1383.5zM1391.0 449.4H1397.5V451.1H1391.0zM1391.0 576.4H1397.5V578.1H1391.0zM1404.1 449.4H1409.7V451.1H1404.1zM1404.1 576.4H1409.7V578.1H1404.1zM1409.7 449.4H1411.3V451.1H1409.7zM1409.7 576.4H1411.3V578.1H1409.7zM1411.3 449.4H1414.8V451.1H1411.3zM1411.3 576.4H1414.8V578.1H1411.3zM1414.8 449.4H1416.7V451.1H1414.8zM1414.8 576.4H1416.7V578.1H1414.8zM1416.7 449.4H1437.5V451.1H1416.7zM1416.7 576.4H1437.5V578.1H1416.7zM1437.5 449.4H1439.8V451.1H1437.5zM1437.5 576.4H1439.8V578.1H1437.5zM1439.8 449.4H1441.8V451.1H1439.8zM1439.8 576.4H1441.8V578.1H1439.8zM1446.0 449.4H1460.2V451.1H1446.0zM1446.0 576.4H1460.2V578.1H1446.0zM1464.4 449.4H1464.9V451.1H1464.4zM1464.4 576.4H1464.9V578.1H1464.4zM1464.9 449.4H1468.2V451.1H1464.9zM1464.9 576.4H1468.2V578.1H1464.9zM1468.2 449.4H1471.4V451.1H1468.2zM1468.2 576.4H1471.4V578.1H1468.2zM1475.6 449.4H1482.6V451.1H1475.6zM1475.6 576.4H1482.6V578.1H1475.6zM1486.3 449.4H1500.8V451.1H1486.3zM1486.3 576.4H1500.8V578.1H1486.3zM1504.2 449.4H1510.7V451.1H1504.2zM1504.2 576.4H1510.7V578.1H1504.2zM1510.7 449.4H1513.5V451.1H1510.7zM1510.7 576.4H1513.5V578.1H1510.7zM1513.5 449.4H1524.8V451.1H1513.5zM1513.5 576.4H1524.8V578.1H1513.5zM1524.8 449.4H1526.3V451.1H1524.8zM1524.8 576.4H1526.3V578.1H1524.8zM1526.3 449.4H1530.1V451.1H1526.3zM1526.3 576.4H1530.1V578.1H1526.3zM1530.1 449.4H1532.4V451.1H1530.1zM1530.1 576.4H1532.4V578.1H1530.1zM1532.4 449.4H1543.3V451.1H1532.4zM1532.4 576.4H1543.3V578.1H1532.4zM1543.3 449.4H1545.2V451.1H1543.3zM1543.3 576.4H1545.2V578.1H1543.3zM1545.2 449.4H1553.1V451.1H1545.2zM1545.2 576.4H1553.1V578.1H1545.2zM1556.8 449.4H1559.0V451.1H1556.8zM1556.8 576.4H1559.0V578.1H1556.8zM1559.0 449.4H1560.9V451.1H1559.0zM1559.0 576.4H1560.9V578.1H1559.0zM1560.9 449.4H1568.8V451.1H1560.9zM1560.9 576.4H1568.8V578.1H1560.9zM1568.8 449.4H1571.1V451.1H1568.8zM1568.8 576.4H1571.1V578.1H1568.8zM1571.1 449.4H1572.8V451.1H1571.1zM1571.1 576.4H1572.8V578.1H1571.1zM1572.8 449.4H1575.5V451.1H1572.8zM1572.8 576.4H1575.5V578.1H1572.8zM1575.5 449.4H1580.7V451.1H1575.5zM1575.5 576.4H1580.7V578.1H1575.5zM1580.7 449.4H1583.6V451.1H1580.7zM1580.7 576.4H1583.6V578.1H1580.7zM1583.6 449.4H1590.5V451.1H1583.6zM1583.6 576.4H1590.5V578.1H1583.6zM1594.2 449.4H1596.3V451.1H1594.2zM1594.2 576.4H1596.3V578.1H1594.2zM1596.3 449.4H1597.8V451.1H1596.3zM1596.3 576.4H1597.8V578.1H1596.3zM1597.8 449.4H1599.0V451.1H1597.8zM1597.8 576.4H1599.0V578.1H1597.8zM1603.6 449.4H1605.2V451.1H1603.6zM1603.6 576.4H1605.2V578.1H1603.6zM1609.6 449.4H1619.6V451.1H1609.6zM1609.6 576.4H1619.6V578.1H1609.6zM1619.6 449.4H1622.3V451.1H1619.6zM1619.6 576.4H1622.3V578.1H1619.6zM1622.3 449.4H1636.3V451.1H1622.3zM1622.3 576.4H1636.3V578.1H1622.3zM1636.3 449.4H1641.0V451.1H1636.3zM1636.3 576.4H1641.0V578.1H1636.3zM1641.0 449.4H1650.0V451.1H1641.0zM1641.0 576.4H1650.0V578.1H1641.0zM1650.0 449.4H1652.7V451.1H1650.0zM1650.0 576.4H1652.7V578.1H1650.0zM1652.7 449.4H1654.7V451.1H1652.7zM1652.7 576.4H1654.7V578.1H1652.7zM1658.4 449.4H1660.7V451.1H1658.4zM1658.4 576.4H1660.7V578.1H1658.4zM1664.9 449.4H1669.5V451.1H1664.9zM1664.9 576.4H1669.5V578.1H1664.9zM1669.5 449.4H1671.0V451.1H1669.5zM1669.5 576.4H1671.0V578.1H1669.5zM1671.0 449.4H1675.6V451.1H1671.0zM1671.0 576.4H1675.6V578.1H1671.0zM1675.6 449.4H1677.4V451.1H1675.6zM1675.6 576.4H1677.4V578.1H1675.6zM1677.4 449.4H1681.8V451.1H1677.4zM1677.4 576.4H1681.8V578.1H1677.4zM1681.8 449.4H1685.1V451.1H1681.8zM1681.8 576.4H1685.1V578.1H1681.8zM1685.1 449.4H1702.7V451.1H1685.1zM1685.1 576.4H1702.7V578.1H1685.1zM1702.7 449.4H1705.0V451.1H1702.7zM1702.7 576.4H1705.0V578.1H1702.7zM1705.0 449.4H1710.7V451.1H1705.0zM1705.0 576.4H1710.7V578.1H1705.0zM1710.7 449.4H1713.5V451.1H1710.7zM1710.7 576.4H1713.5V578.1H1710.7zM1713.5 449.4H1716.2V451.1H1713.5zM1713.5 576.4H1716.2V578.1H1713.5zM1716.2 449.4H1718.5V451.1H1716.2zM1716.2 576.4H1718.5V578.1H1716.2zM1718.5 449.4H1724.0V451.1H1718.5zM1718.5 576.4H1724.0V578.1H1718.5zM1729.4 449.4H1731.8V451.1H1729.4zM1729.4 576.4H1731.8V578.1H1729.4zM1731.8 449.4H1733.3V451.1H1731.8zM1731.8 576.4H1733.3V578.1H1731.8zM1733.3 449.4H1737.1V451.1H1733.3zM1733.3 576.4H1737.1V578.1H1733.3zM1737.1 449.4H1738.7V451.1H1737.1zM1737.1 576.4H1738.7V578.1H1737.1zM1738.7 449.4H1759.6V451.1H1738.7zM1738.7 576.4H1759.6V578.1H1738.7zM1759.6 449.4H1764.8V451.1H1759.6zM1759.6 576.4H1764.8V578.1H1759.6zM1764.8 449.4H1768.5V451.1H1764.8zM1764.8 576.4H1768.5V578.1H1764.8zM1768.5 449.4H1770.4V451.1H1768.5zM1768.5 576.4H1770.4V578.1H1768.5zM1770.4 449.4H1792.5V451.1H1770.4zM1770.4 576.4H1792.5V578.1H1770.4zM1796.0 449.4H1799.9V451.1H1796.0zM1796.0 576.4H1799.9V578.1H1796.0zM1799.9 449.4H1801.7V451.1H1799.9zM1799.9 576.4H1801.7V578.1H1799.9zM1801.7 449.4H1808.0V451.1H1801.7zM1801.7 576.4H1808.0V578.1H1801.7zM1808.0 449.4H1810.6V451.1H1808.0zM1808.0 576.4H1810.6V578.1H1808.0zM1810.6 449.4H1822.9V451.1H1810.6zM1810.6 576.4H1822.9V578.1H1810.6zM1827.5 449.4H1832.0V451.1H1827.5zM1827.5 576.4H1832.0V578.1H1827.5zM1832.0 449.4H1835.3V451.1H1832.0zM1832.0 576.4H1835.3V578.1H1832.0zM1835.3 449.4H1838.2V451.1H1835.3zM1835.3 576.4H1838.2V578.1H1835.3zM1838.2 449.4H1840.1V451.1H1838.2zM1838.2 576.4H1840.1V578.1H1838.2zM1840.1 449.4H1858.7V451.1H1840.1zM1840.1 576.4H1858.7V578.1H1840.1zM1862.4 449.4H1867.7V451.1H1862.4zM1862.4 576.4H1867.7V578.1H1862.4zM1872.9 449.4H1874.1V451.1H1872.9zM1872.9 576.4H1874.1V578.1H1872.9zM1874.1 449.4H1875.9V451.1H1874.1zM1874.1 576.4H1875.9V578.1H1874.1zM1875.9 449.4H1878.7V451.1H1875.9zM1875.9 576.4H1878.7V578.1H1875.9zM1878.7 449.4H1881.3V451.1H1878.7zM1878.7 576.4H1881.3V578.1H1878.7zM1881.3 449.4H1883.4V451.1H1881.3zM1881.3 576.4H1883.4V578.1H1881.3zM1883.4 449.4H1885.0V451.1H1883.4zM1883.4 576.4H1885.0V578.1H1883.4zM1885.0 449.4H1905.8V451.1H1885.0zM1885.0 576.4H1905.8V578.1H1885.0zM1905.8 449.4H1908.5V451.1H1905.8zM1905.8 576.4H1908.5V578.1H1905.8zM1908.5 449.4H1926.9V451.1H1908.5zM1908.5 576.4H1926.9V578.1H1908.5zM1933.1 449.4H1937.9V451.1H1933.1zM1933.1 576.4H1937.9V578.1H1933.1zM1943.1 449.4H1946.6V451.1H1943.1zM1943.1 576.4H1946.6V578.1H1943.1zM1946.6 449.4H1949.3V451.1H1946.6zM1946.6 576.4H1949.3V578.1H1946.6zM1949.3 449.4H1951.2V451.1H1949.3zM1949.3 576.4H1951.2V578.1H1949.3zM1955.9 449.4H1960.2V451.1H1955.9zM1955.9 576.4H1960.2V578.1H1955.9zM1967.1 449.4H1975.3V451.1H1967.1zM1967.1 576.4H1975.3V578.1H1967.1zM1975.3 449.4H1977.6V451.1H1975.3zM1975.3 576.4H1977.6V578.1H1975.3zM1977.6 449.4H1982.5V451.1H1977.6zM1977.6 576.4H1982.5V578.1H1977.6z"/>
<path fill-opacity="0.89" d="M1249.4 320.3H1251.5V450.5H1249.4zM1384.7 320.3H1386.6V450.5H1384.7zM1404.1 320.3H1406.0V450.5H1404.1zM1419.0 320.3H1420.6V450.5H1419.0zM1443.4 320.3H1445.5V450.5H1443.4zM1469.6 320.3H1471.4V450.5H1469.6zM1547.5 320.3H1549.7V450.5H1547.5zM1550.3 320.3H1552.7V450.5H1550.3zM1582.4 320.3H1584.1V450.5H1582.4zM1643.1 320.3H1646.1V450.5H1643.1zM1654.1 320.3H1657.1V450.5H1654.1zM1672.6 320.3H1674.7V450.5H1672.6zM1716.4 320.3H1718.2V450.5H1716.4zM1750.8 320.3H1753.7V450.5H1750.8zM1766.7 320.3H1769.6V450.5H1766.7zM1784.0 320.3H1785.8V450.5H1784.0zM1802.9 320.3H1804.7V450.5H1802.9zM1827.2 320.3H1829.9V450.5H1827.2zM1832.5 320.3H1834.9V450.5H1832.5zM1859.4 320.3H1861.8V450.5H1859.4zM1874.3 320.3H1876.2V450.5H1874.3zM1879.8 320.3H1881.7V450.5H1879.8zM1915.1 320.3H1918.0V450.5H1915.1zM1920.1 320.3H1923.0V450.5H1920.1zM1946.0 320.3H1947.9V450.5H1946.0zM1414.0 191.5H1416.6V321.6H1414.0zM1643.1 191.5H1646.1V321.6H1643.1zM1654.1 191.5H1657.1V321.6H1654.1zM1751.3 191.5H1753.5V321.6H1751.3zM1759.8 191.5H1762.4V321.6H1759.8zM1767.2 191.5H1769.4V321.6H1767.2zM1776.7 191.5H1778.8V321.6H1776.7zM1827.2 191.5H1829.4V321.6H1827.2zM1925.6 191.5H1928.5V321.6H1925.6zM1953.3 191.5H1956.0V321.6H1953.3zM1965.0 191.5H1967.7V321.6H1965.0zM1972.5 191.5H1974.7V321.6H1972.5zM1414.0 62.7H1416.6V192.8H1414.0zM1168.2 578.0H1170.8V708.1H1168.2zM1189.6 578.0H1192.5V708.1H1189.6zM1212.3 578.0H1214.9V708.1H1212.3zM1239.9 578.0H1242.3V708.1H1239.9zM1251.1 578.0H1253.3V708.1H1251.1zM1255.4 578.0H1257.5V708.1H1255.4zM1295.9 578.0H1298.3V708.1H1295.9zM1348.6 578.0H1350.2V708.1H1348.6zM1383.2 578.0H1385.8V708.1H1383.2zM1422.0 578.0H1424.4V708.1H1422.0zM1428.2 578.0H1430.2V708.1H1428.2zM1439.7 578.0H1442.3V708.1H1439.7zM1458.4 578.0H1460.3V708.1H1458.4zM1491.2 578.0H1493.9V708.1H1491.2zM1512.8 578.0H1514.5V708.1H1512.8zM1517.1 578.0H1519.0V708.1H1517.1zM1531.6 578.0H1533.8V708.1H1531.6zM1579.2 578.0H1581.6V708.1H1579.2zM1597.9 578.0H1599.5V708.1H1597.9zM1602.6 578.0H1604.5V708.1H1602.6zM1637.2 578.0H1640.1V708.1H1637.2zM1684.3 578.0H1686.2V708.1H1684.3zM1707.5 578.0H1709.3V708.1H1707.5zM1752.1 578.0H1754.9V708.1H1752.1zM1785.2 578.0H1787.7V708.1H1785.2zM1811.6 578.0H1813.9V708.1H1811.6zM1883.0 578.0H1885.4V708.1H1883.0zM1901.5 578.0H1904.1V708.1H1901.5z"/>
<path fill-opacity="0.9" d="M1167.7 449.4H1172.9V578.1H1167.7zM1176.9 449.4H1179.3V578.1H1176.9zM1184.2 449.4H1189.3V578.1H1184.2zM1192.9 449.4H1194.7V578.1H1192.9zM1197.0 449.4H1198.5V578.1H1197.0zM1208.1 449.4H1209.9V578.1H1208.1zM1219.1 449.4H1221.6V578.1H1219.1zM1224.3 449.4H1233.8V578.1H1224.3zM1237.0 449.4H1241.3V578.1H1237.0zM1244.5 449.4H1247.0V578.1H1244.5zM1249.7 449.4H1252.0V578.1H1249.7zM1254.7 449.4H1258.9V578.1H1254.7zM1260.7 449.4H1269.9V578.1H1260.7zM1272.2 449.4H1279.5V578.1H1272.2zM1281.0 449.4H1289.4V578.1H1281.0zM1293.4 449.4H1294.1V578.1H1293.4zM1298.3 449.4H1300.0V578.1H1298.3zM1314.2 449.4H1321.4V578.1H1314.2zM1323.3 449.4H1326.8V578.1H1323.3zM1330.3 449.4H1347.8V578.1H1330.3zM1349.9 449.4H1350.6V578.1H1349.9zM1356.8 449.4H1361.9V578.1H1356.8zM1363.5 449.4H1365.8V578.1H1363.5zM1368.1 449.4H1371.0V578.1H1368.1zM1374.0 449.4H1380.8V578.1H1374.0zM1383.5 449.4H1386.3V578.1H1383.5zM1391.0 449.4H1397.5V578.1H1391.0zM1404.1 449.4H1409.7V578.1H1404.1zM1411.3 449.4H1414.8V578.1H1411.3zM1416.7 449.4H1437.5V578.1H1416.7zM1439.8 449.4H1441.8V578.1H1439.8zM1446.0 449.4H1460.2V578.1H1446.0zM1464.4 449.4H1464.9V578.1H1464.4zM1468.2 449.4H1471.4V578.1H1468.2zM1475.6 449.4H1482.6V578.1H1475.6zM1486.3 449.4H1500.8V578.1H1486.3zM1504.2 449.4H1510.7V578.1H1504.2zM1513.5 449.4H1524.8V578.1H1513.5zM1526.3 449.4H1530.1V578.1H1526.3zM1532.4 449.4H1543.3V578.1H1532.4zM1545.2 449.4H1553.1V578.1H1545.2zM1556.8 449.4H1559.0V578.1H1556.8zM1560.9 449.4H1568.8V578.1H1560.9zM1571.1 449.4H1572.8V578.1H1571.1zM1575.5 449.4H1580.7V578.1H1575.5zM1583.6 449.4H1590.5V578.1H1583.6zM1594.2 449.4H1596.3V578.1H1594.2zM1597.8 449.4H1599.0V578.1H1597.8zM1603.6 449.4H1605.2V578.1H1603.6zM1609.6 449.4H1619.6V578.1H1609.6zM1622.3 449.4H1636.3V578.1H1622.3zM1641.0 449.4H1650.0V578.1H1641.0zM1652.7 449.4H1654.7V578.1H1652.7zM1658.4 449.4H1660.7V578.1H1658.4zM1664.9 449.4H1669.5V578.1H1664.9zM1671.0 449.4H1675.6V578.1H1671.0zM1677.4 449.4H1681.8V578.1H1677.4zM1685.1 449.4H1702.7V578.1H1685.1zM1705.0 449.4H1710.7V578.1H1705.0zM1713.5 449.4H1716.2V578.1H1713.5zM1718.5 449.4H1724.0V578.1H1718.5zM1729.4 449.4H1731.8V578.1H1729.4zM1733.3 449.4H1737.1V578.1H1733.3zM1738.7 449.4H1759.6V578.1H1738.7zM1764.8 449.4H1768.5V578.1H1764.8zM1770.4 449.4H1792.5V578.1H1770.4zM1796.0 449.4H1799.9V578.1H1796.0zM1801.7 449.4H1808.0V578.1H1801.7zM1810.6 449.4H1822.9V578.1H1810.6zM1827.5 449.4H1832.0V578.1H1827.5zM1835.3 449.4H1838.2V578.1H1835.3zM1840.1 449.4H1858.7V578.1H1840.1zM1862.4 449.4H1867.7V578.1H1862.4zM1872.9 449.4H1874.1V578.1H1872.9zM1875.9 449.4H1878.7V578.1H1875.9zM1881.3 449.4H1883.4V578.1H1881.3zM1885.0 449.4H1905.8V578.1H1885.0zM1908.5 449.4H1926.9V578.1H1908.5zM1933.1 449.4H1937.9V578.1H1933.1zM1943.1 449.4H1946.6V578.1H1943.1zM1949.3 449.4H1951.2V578.1H1949.3zM1955.9 449.4H1960.2V578.1H1955.9zM1967.1 449.4H1975.3V578.1H1967.1zM1977.6 449.4H1982.5V578.1H1977.6zM1178.7 576.3H1184.8V578.1H1178.7zM1197.9 576.3H1208.7V578.1H1197.9zM1209.3 576.3H1219.7V578.1H1209.3zM1233.2 576.3H1237.6V578.1H1233.2zM1240.7 576.3H1245.1V578.1H1240.7zM1293.5 576.3H1298.9V578.1H1293.5zM1299.4 576.3H1314.8V578.1H1299.4zM1350.0 576.3H1357.4V578.1H1350.0zM1385.7 449.4H1391.6V451.2H1385.7zM1396.9 449.4H1404.7V451.2H1396.9zM1441.2 449.4H1446.6V451.2H1441.2zM1459.6 576.3H1465.0V578.1H1459.6zM1470.8 449.4H1476.2V451.2H1470.8zM1482.0 576.3H1486.9V578.1H1482.0zM1500.2 576.3H1504.8V578.1H1500.2zM1552.5 449.4H1557.4V451.2H1552.5zM1589.9 576.3H1594.8V578.1H1589.9zM1598.4 576.3H1604.2V578.1H1598.4zM1604.6 576.3H1610.2V578.1H1604.6zM1654.1 449.4H1659.0V451.2H1654.1zM1660.1 576.3H1665.5V578.1H1660.1zM1723.4 449.4H1730.0V451.2H1723.4zM1791.9 449.4H1796.6V451.2H1791.9zM1822.3 576.3H1828.1V578.1H1822.3zM1858.1 449.4H1863.0V451.2H1858.1zM1867.1 576.3H1873.5V578.1H1867.1zM1926.3 449.4H1933.7V451.2H1926.3zM1937.3 449.4H1943.7V451.2H1937.3zM1950.6 449.4H1956.5V451.2H1950.6zM1959.6 449.4H1967.7V451.2H1959.6z"/>
<path fill-opacity="0.95" d="M1283.8 320.3H1286.0V450.5H1283.8zM1286.8 320.3H1289.1V450.5H1286.8zM1289.9 320.3H1292.1V450.5H1289.9zM1412.3 320.3H1414.2V450.5H1412.3zM1415.0 320.3H1416.9V450.5H1415.0zM1520.8 320.3H1524.2V450.5H1520.8zM1575.7 320.3H1579.6V450.5H1575.7zM1679.3 320.3H1682.4V450.5H1679.3zM1723.1 320.3H1725.6V450.5H1723.1zM1726.4 320.3H1729.0V450.5H1726.4zM1759.5 320.3H1762.6V450.5H1759.5zM1774.7 320.3H1779.1V450.5H1774.7zM1792.1 320.3H1796.5V450.5H1792.1zM1925.6 320.3H1928.9V450.5H1925.6zM1929.7 320.3H1933.0V450.5H1929.7zM1936.6 320.3H1939.6V450.5H1936.6zM1940.4 320.3H1943.4V450.5H1940.4zM1953.1 320.3H1955.6V450.5H1953.1zM1956.4 320.3H1959.0V450.5H1956.4zM1961.8 320.3H1964.5V450.5H1961.8zM1965.3 320.3H1967.9V450.5H1965.3zM1972.3 320.3H1974.7V450.5H1972.3zM1975.5 320.3H1977.9V450.5H1975.5zM1220.0 578.0H1224.2V708.1H1220.0zM1301.9 578.0H1305.1V708.1H1301.9zM1320.8 578.0H1323.0V708.1H1320.8zM1323.8 578.0H1326.0V708.1H1323.8zM1350.3 578.0H1354.2V708.1H1350.3zM1372.0 578.0H1374.0V708.1H1372.0zM1374.8 578.0H1376.8V708.1H1374.8zM1468.0 578.0H1470.1V708.1H1468.0zM1470.9 578.0H1473.0V708.1H1470.9zM1483.6 578.0H1487.0V708.1H1483.6zM1496.5 578.0H1498.8V708.1H1496.5zM1499.6 578.0H1501.8V708.1H1499.6zM1502.6 578.0H1504.9V708.1H1502.6zM1540.0 578.0H1543.0V708.1H1540.0zM1543.8 578.0H1546.7V708.1H1543.8zM1660.4 578.0H1664.7V708.1H1660.4zM1667.3 578.0H1671.0V708.1H1667.3zM1689.2 578.0H1691.5V708.1H1689.2zM1692.3 578.0H1694.5V708.1H1692.3zM1695.3 578.0H1697.6V708.1H1695.3zM1698.4 578.0H1700.6V708.1H1698.4zM1820.0 578.0H1822.1V708.1H1820.0zM1822.9 578.0H1824.9V708.1H1822.9zM1828.5 578.0H1831.6V708.1H1828.5zM1845.4 578.0H1849.1V708.1H1845.4zM1865.3 578.0H1869.2V708.1H1865.3z"/>
<path fill="#d4e9f9" stroke="none" d="M1172.9 451.1H1176.9V576.4H1172.9zM1189.3 451.1H1192.9V576.4H1189.3zM1194.7 451.1H1197.0V576.4H1194.7zM1221.6 451.1H1224.3V576.4H1221.6zM1247.0 451.1H1249.7V576.4H1247.0zM1252.0 451.1H1254.7V576.4H1252.0zM1258.9 451.1H1260.7V576.4H1258.9zM1269.9 451.1H1272.2V576.4H1269.9zM1289.4 451.1H1293.4V576.4H1289.4zM1326.8 451.1H1330.3V576.4H1326.8zM1365.8 451.1H1368.1V576.4H1365.8zM1371.0 451.1H1374.0V576.4H1371.0zM1380.8 451.1H1383.5V576.4H1380.8zM1437.5 451.1H1439.8V576.4H1437.5zM1510.7 451.1H1513.5V576.4H1510.7zM1530.1 451.1H1532.4V576.4H1530.1zM1568.8 451.1H1571.1V576.4H1568.8zM1572.8 451.1H1575.5V576.4H1572.8zM1619.6 451.1H1622.3V576.4H1619.6zM1650.0 451.1H1652.7V576.4H1650.0zM1702.7 451.1H1705.0V576.4H1702.7zM1710.7 451.1H1713.5V576.4H1710.7zM1716.2 451.1H1718.5V576.4H1716.2zM1759.6 451.1H1764.8V576.4H1759.6zM1905.8 451.1H1908.5V576.4H1905.8zM1946.6 451.1H1949.3V576.4H1946.6z"/>
<path fill="#8cc4f0" stroke="none" d="M1279.5 451.1H1281.0V576.4H1279.5zM1321.4 451.1H1323.3V576.4H1321.4zM1347.8 451.1H1349.9V576.4H1347.8zM1361.9 451.1H1363.5V576.4H1361.9zM1409.7 451.1H1411.3V576.4H1409.7zM1414.8 451.1H1416.7V576.4H1414.8zM1464.9 451.1H1468.2V576.4H1464.9zM1524.8 451.1H1526.3V576.4H1524.8zM1543.3 451.1H1545.2V576.4H1543.3zM1559.0 451.1H1560.9V576.4H1559.0zM1580.7 451.1H1583.6V576.4H1580.7zM1596.3 451.1H1597.8V576.4H1596.3zM1636.3 451.1H1641.0V576.4H1636.3zM1669.5 451.1H1671.0V576.4H1669.5zM1675.6 451.1H1677.4V576.4H1675.6zM1681.8 451.1H1685.1V576.4H1681.8zM1731.8 451.1H1733.3V576.4H1731.8zM1737.1 451.1H1738.7V576.4H1737.1zM1768.5 451.1H1770.4V576.4H1768.5zM1799.9 451.1H1801.7V576.4H1799.9zM1808.0 451.1H1810.6V576.4H1808.0zM1832.0 451.1H1835.3V576.4H1832.0zM1838.2 451.1H1840.1V576.4H1838.2zM1874.1 451.1H1875.9V576.4H1874.1zM1878.7 451.1H1881.3V576.4H1878.7zM1883.4 451.1H1885.0V576.4H1883.4zM1975.3 451.1H1977.6V576.4H1975.3z"/>
</g>
</g>
<text class="pl" x="3.5" y="43.2">A</text>
<text class="pl" x="1047" y="49.8">B</text>
<text class="ti" x="508.3" y="38.7" text-anchor="middle">Bromhexine</text>
<text class="ti" x="1555.5" y="38.7" text-anchor="middle">Orlistat</text>
<text class="ti" x="481.8" y="827" text-anchor="middle">Time (ns)</text>
<text class="ti" x="1575" y="811" text-anchor="middle">Time (ns)</text>
<text class="yl" transform="translate(35.6,387) rotate(-90) scale(0.953 1)" text-anchor="middle">Number of Interactions (HB)</text>
<text class="yl" transform="translate(1081.6,401) rotate(-90) scale(0.953 1)" text-anchor="middle">Number of Interactions (HB)</text>
</svg>
</body></html>
